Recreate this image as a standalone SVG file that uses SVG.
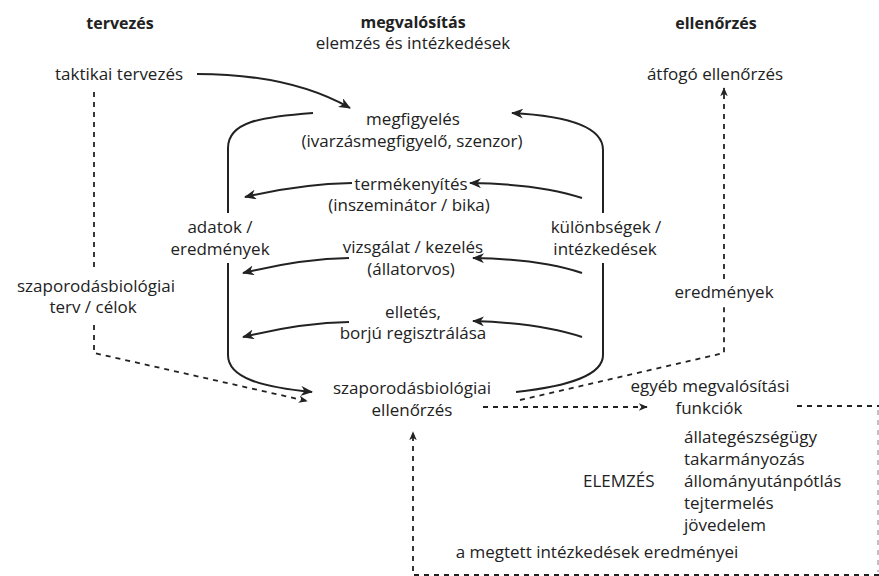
<svg xmlns="http://www.w3.org/2000/svg" width="879" height="576" viewBox="0 0 879 576">
<style>
text{font-family:"Open Sans","Noto Sans",sans-serif;font-size:17px;fill:#222;text-anchor:middle}
.h{font-weight:700;font-size:16px}
.l{text-anchor:start}
.s{fill:none;stroke:#222;stroke-width:2}
.d{fill:none;stroke:#222;stroke-width:1.8;stroke-dasharray:5 5}
.g{fill:none;stroke:#bbb;stroke-width:1.8;stroke-dasharray:5 5}
</style>
<defs>
<marker id="a" viewBox="0 0 12 10" refX="11" refY="5" markerWidth="12" markerHeight="10" markerUnits="userSpaceOnUse" orient="auto"><path d="M0,0 L12,5 L0,10 L3.5,5 z" fill="#222"/></marker>
<marker id="b" viewBox="0 0 12 10" refX="11" refY="5" markerWidth="9" markerHeight="8" markerUnits="userSpaceOnUse" orient="auto"><path d="M0,0 L12,5 L0,10 L3.5,5 z" fill="#222"/></marker>
</defs>
<rect width="879" height="576" fill="#fff"/>
<g id="headers">
<text class="h" x="120" y="29">tervezés</text>
<text class="h" x="413" y="28">megvalósítás</text>
<text x="413" y="49">elemzés és intézkedések</text>
<text class="h" x="716" y="29">ellenőrzés</text>
</g>
<g id="n-taktikai"><text x="119" y="80">taktikai tervezés</text></g>
<g id="n-atfogo"><text x="715" y="80">átfogó ellenőrzés</text></g>
<g id="n-megfigyeles"><text x="413" y="125">megfigyelés</text><text x="412" y="147">(ivarzásmegfigyelő, szenzor)</text></g>
<g id="n-termekenyites"><text x="411" y="190">termékenyítés</text><text x="409" y="211">(inszeminátor / bika)</text></g>
<g id="n-adatok"><text x="220" y="233">adatok /</text><text x="220" y="255">eredmények</text></g>
<g id="n-kulonbsegek"><text x="606" y="233">különbségek /</text><text x="605" y="255">intézkedések</text></g>
<g id="n-vizsgalat"><text x="413" y="253">vizsgálat / kezelés</text><text x="411" y="275">(állatorvos)</text></g>
<g id="n-terv"><text x="96" y="292">szaporodásbiológiai</text><text x="93" y="313">terv / célok</text></g>
<g id="n-eredmenyek"><text x="724" y="298">eredmények</text></g>
<g id="n-elletes"><text x="413" y="318">elletés,</text><text x="413" y="339">borjú regisztrálása</text></g>
<g id="n-ellenorzes"><text x="412" y="394">szaporodásbiológiai</text><text x="412" y="416">ellenőrzés</text></g>
<g id="n-egyeb"><text x="710" y="392">egyéb megvalósítási</text><text x="709" y="414">funkciók</text></g>
<g id="n-elemzes">
<text class="l" x="583" y="487">ELEMZÉS</text>
<text class="l" x="684" y="443">állategészségügy</text>
<text class="l" x="684" y="465">takarmányozás</text>
<text class="l" x="684" y="487">állományutánpótlás</text>
<text class="l" x="684" y="509">tejtermelés</text>
<text class="l" x="684" y="531">jövedelem</text>
</g>
<g id="n-megtett"><text x="597" y="558">a megtett intézkedések eredményei</text></g>
<g id="connectors">
<path class="s" d="M197,74 Q290,74 350,108" marker-end="url(#a)"/>
<path class="s" d="M313,113 C260,117 228,122 228,148 L228,213"/>
<path class="s" d="M228,263 L228,355 C228,378 262,387 312,392" marker-end="url(#a)"/>
<path class="s" d="M516,392 C570,386 603,375 603,355 L603,263"/>
<path class="s" d="M603,213 L603,150 C603,128 570,116 512,113" marker-end="url(#a)"/>
<path class="s" d="M582,198 Q540,184 470,183" marker-end="url(#a)"/>
<path class="s" d="M352,183 Q300,184 245,197" marker-end="url(#a)"/>
<path class="s" d="M582,273 Q540,259 473,258" marker-end="url(#a)"/>
<path class="s" d="M349,258 Q300,259 243,273" marker-end="url(#a)"/>
<path class="s" d="M582,337 Q540,323 473,321" marker-end="url(#a)"/>
<path class="s" d="M349,322 Q300,323 243,337" marker-end="url(#a)"/>
<path class="d" d="M94,92 L94,270"/>
<path class="d" d="M94,325 L94,353 L307,401" marker-end="url(#b)"/>
<path class="d" d="M520,400 L724,353 L724,307"/>
<path class="d" d="M724,279 L724,88" marker-end="url(#b)"/>
<path class="d" d="M483,407 L647,407" marker-end="url(#b)"/>
<path class="d" d="M797,406 L879,406"/>
<path class="g" d="M878,410 L878,572"/>
<path class="d" d="M879,575 L413,575 L413,432" marker-end="url(#b)"/>
</g>
</svg>
